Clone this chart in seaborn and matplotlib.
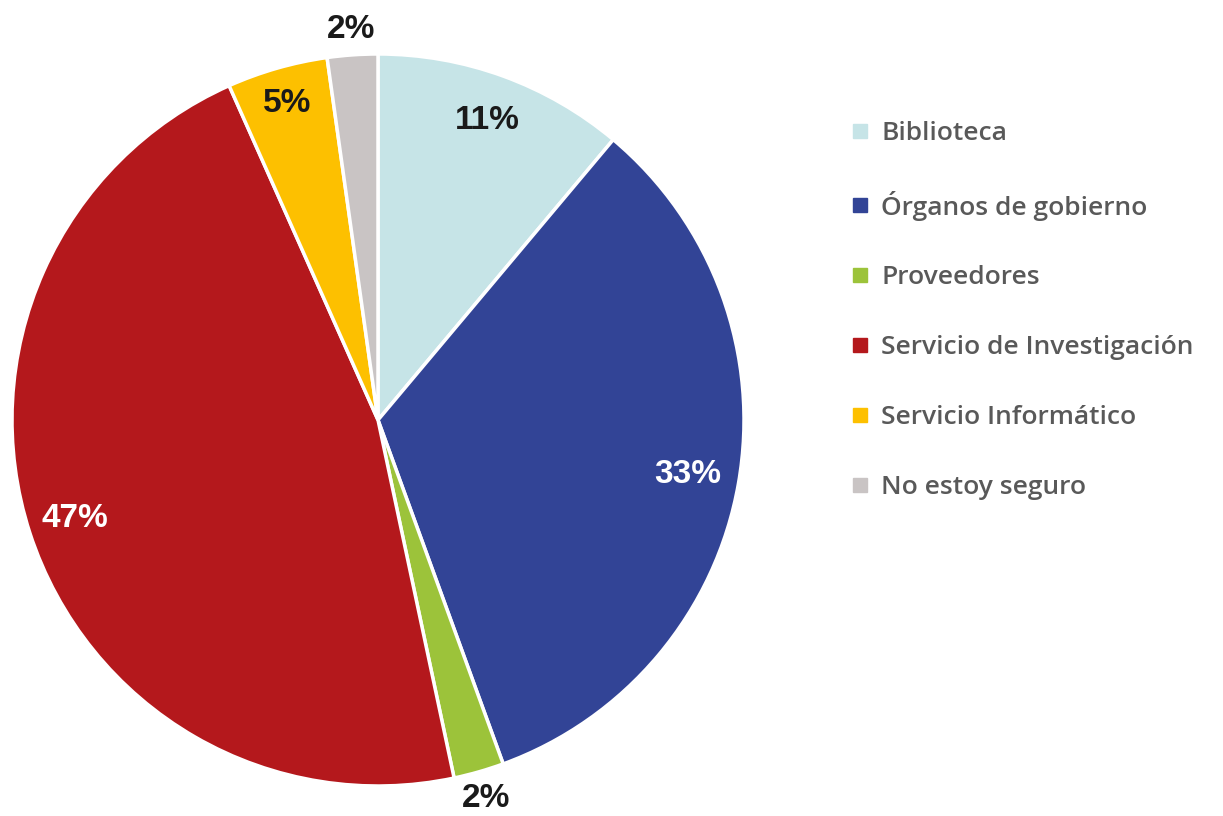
import numpy as np
import matplotlib
matplotlib.use("Agg")
import matplotlib.pyplot as plt
import seaborn as sns
from matplotlib.lines import Line2D

categorias = ["Biblioteca", "Órganos de gobierno", "Proveedores",
              "Servicio de Investigación", "Servicio Informático", "No estoy seguro"]
respuestas = [5, 15, 1, 21, 2, 1]
etiquetas  = ["11%", "33%", "2%", "47%", "5%", "2%"]
colores    = ["#C6E4E7", "#324496", "#9CC33A", "#B4181C", "#FDC000", "#C9C4C4"]
color_txt  = ["#1a1a1a", "white", "#1a1a1a", "white", "#1a1a1a", "#1a1a1a"]
radio_txt  = [0.87, 0.86, 1.075, 0.87, 0.90, 1.07]

sns.set_theme(style="white")
plt.rcParams["font.family"] = ["Liberation Sans", "DejaVu Sans"]

W, H = 1223, 816
fig = plt.figure(figsize=(W / 100, H / 100), dpi=100)
cx, cy, r = 378, 420, 366
ax = fig.add_axes([(cx - r) / W, (H - cy - r) / H, 2 * r / W, 2 * r / H])

paleta = sns.color_palette(colores)
wedges, _ = ax.pie(respuestas, colors=paleta, startangle=90, counterclock=False,
                   radius=1, wedgeprops=dict(edgecolor="white", linewidth=2.5))
ax.set_xlim(-1, 1); ax.set_ylim(-1, 1)
ax.set_aspect("equal")
ax.axis("off")

for w, txt, c, rr in zip(wedges, etiquetas, color_txt, radio_txt):
    ang = np.deg2rad((w.theta1 + w.theta2) / 2)
    ax.text(rr * np.cos(ang), rr * np.sin(ang), txt, ha="center", va="center",
            fontsize=24, fontweight="bold", color=c)

handles = [Line2D([0], [0], marker="s", linestyle="", markersize=10,
                  markerfacecolor=col, markeredgecolor=col) for col in paleta]
leg = fig.legend(handles, categorias, loc="upper left",
                 bbox_to_anchor=(823 / W, 1 - 97 / H), frameon=False,
                 handletextpad=0.3, labelspacing=1.7, handlelength=1.0,
                 prop=dict(family="Open Sans", weight="semibold", size=19))
for t in leg.get_texts():
    t.set_color("#595959")

plt.savefig("out.png", dpi=100)
plt.close()
